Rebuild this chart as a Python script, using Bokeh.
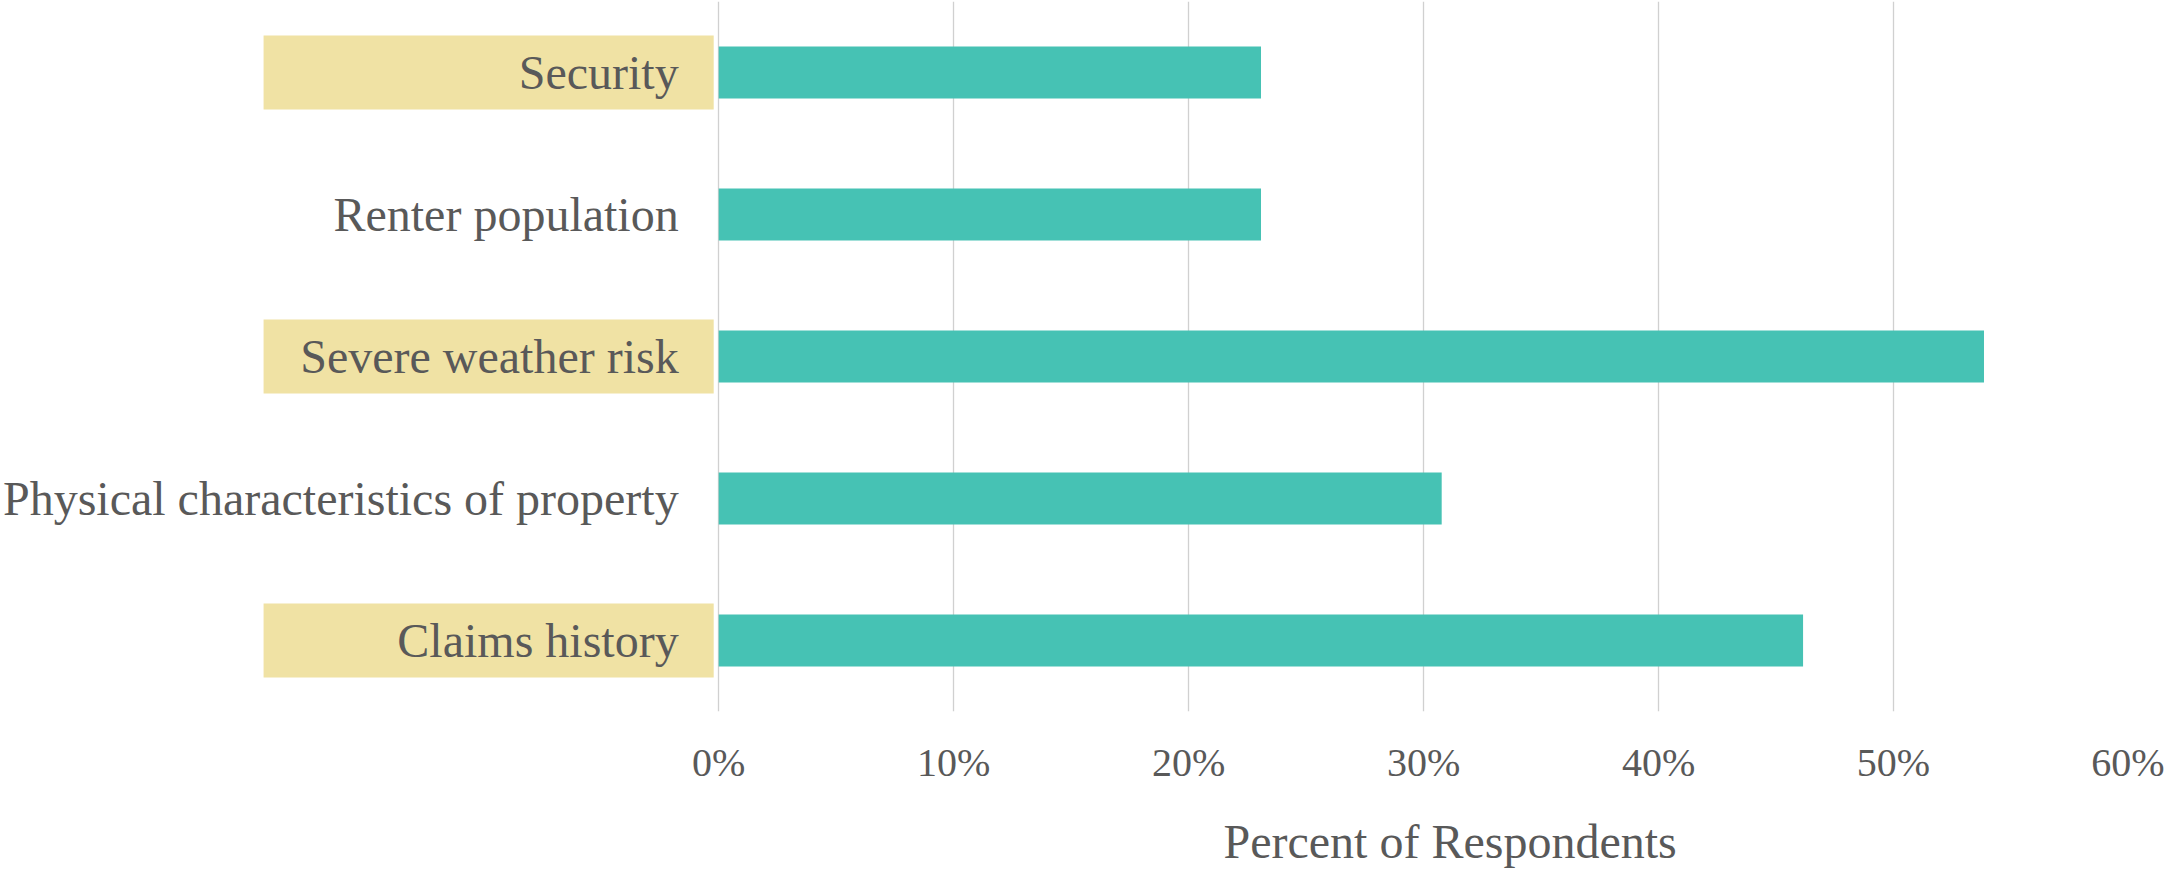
from bokeh.plotting import figure
from bokeh.models import (ColumnDataSource, FixedTicker, NumeralTickFormatter,
                          Range1d, FactorRange, Title)
from bokeh.core.properties import value
from bokeh.embed import file_html
from bokeh.resources import INLINE

# Survey results: share of respondents citing each factor
categories = ["Claims history", "Physical characteristics of property",
              "Severe weather risk", "Renter population", "Security"]
shares = [0.4615, 0.3077, 0.5385, 0.2308, 0.2308]
highlighted = ["Claims history", "Severe weather risk", "Security"]
tick_values = [0.0, 0.1, 0.2, 0.3, 0.4, 0.5, 0.6]
x_title = "Percent of Respondents"

FONT = "Liberation Serif"
TEXT = "#595959"
BAR = "#46C2B4"
BOX = "#F0E2A4"

# The frame spans the whole width; the negative part of the x range holds
# the category labels and their highlight boxes.
px = 0.1 / 234.9
x_start = -718 * px

p = figure(frame_width=2128, frame_height=710, output_backend="svg",
           toolbar_location=None, y_range=FactorRange(*categories, range_padding=0),
           x_range=Range1d(x_start, 0.6),
           min_border_left=0, min_border_top=1, min_border_right=36, min_border_bottom=0)

p.outline_line_color = None
p.background_fill_color = "white"
p.border_fill_color = "white"

src = ColumnDataSource(dict(cat=categories, share=shares))
hl = ColumnDataSource(dict(cat=highlighted))

# highlight boxes behind selected category labels
p.hbar(y="cat", left=-455 * px, right=-5 * px, height=0.521, source=hl,
       fill_color=BOX, line_color=None)

p.hbar(y="cat", left=0, right="share", height=0.366, source=src,
       fill_color=BAR, line_color=None)

p.text(x=-40 * px, y="cat", text="cat", source=src, text_align="right",
       text_baseline="middle", text_font=value(FONT), text_font_size="48px",
       text_color=TEXT)

p.yaxis.visible = False
p.ygrid.grid_line_color = None

ticker = FixedTicker(ticks=tick_values)
p.xaxis.ticker = ticker
p.xgrid.ticker = ticker
p.xaxis.formatter = NumeralTickFormatter(format="0%")
p.xgrid.grid_line_color = "#D0D0D0"
p.xgrid.grid_line_width = 1.3
p.xaxis.axis_line_color = None
p.xaxis.major_tick_line_color = None
p.xaxis.minor_tick_line_color = None
p.xaxis.major_tick_out = 0
p.xaxis.major_label_standoff = 28
p.xaxis.major_label_text_font = FONT
p.xaxis.major_label_text_font_size = "40px"
p.xaxis.major_label_text_color = TEXT

p.add_layout(Title(text=x_title, align="left", offset=1223, standoff=50,
                   text_font=FONT, text_font_size="48px", text_color=TEXT,
                   text_font_style="normal"), "below")

open("out.html", "w").write(file_html(p, INLINE))
